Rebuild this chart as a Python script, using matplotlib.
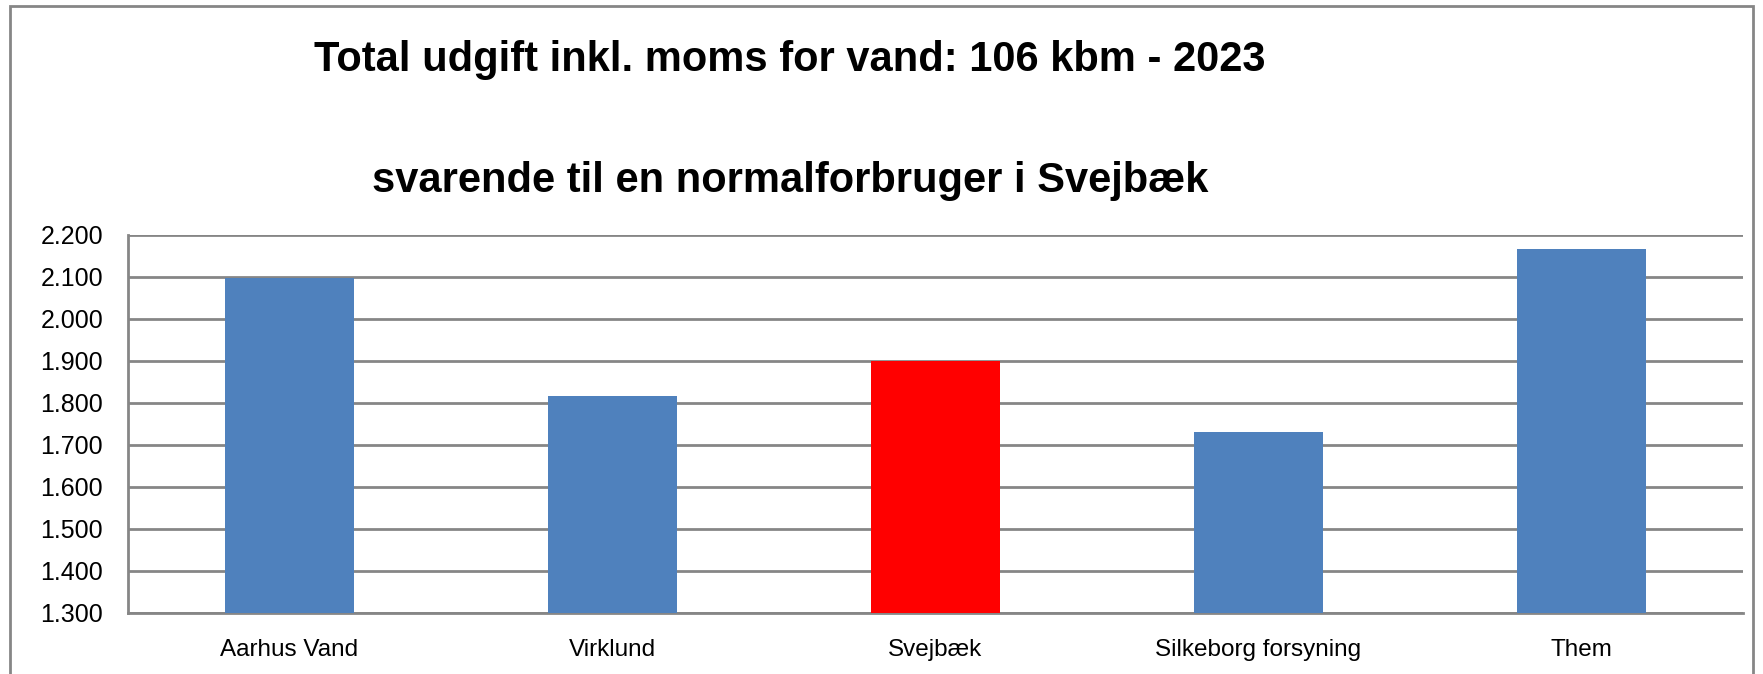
import matplotlib
matplotlib.use('Agg')
import matplotlib.pyplot as plt
from matplotlib.patches import Rectangle

plt.rcParams['font.family'] = ['Liberation Sans Narrow', 'Liberation Sans', 'DejaVu Sans']

# data
selskaber = ['Aarhus Vand', 'Virklund', 'Svejbæk', 'Silkeborg forsyning', 'Them']
udgift = [2097, 1817, 1900, 1731, 2166]
farver = ['#4F81BD', '#4F81BD', '#FF0000', '#4F81BD', '#4F81BD']
yticks = [1300, 1400, 1500, 1600, 1700, 1800, 1900, 2000, 2100, 2200]
ytick_labels = ['1.300', '1.400', '1.500', '1.600', '1.700', '1.800', '1.900', '2.000', '2.100', '2.200']

W, H = 1763, 674
fig = plt.figure(figsize=(W / 100, H / 100), dpi=100)
ax = fig.add_axes([128 / W, 1 - 613 / H, (1743 - 128) / W, (613 - 235) / H])

x = range(len(selskaber))
ax.bar(x, [v - 1300 for v in udgift], bottom=1300, width=0.4, color=farver, zorder=3)

ax.set_xlim(-0.5, len(selskaber) - 0.5)
ax.set_ylim(1300, 2200)
ax.set_yticks(yticks)
ax.set_yticklabels(ytick_labels, fontsize=18)
ax.set_xticks(list(x))
ax.set_xticklabels(selskaber, fontsize=17.5)
ax.tick_params(axis='both', length=0)
ax.tick_params(axis='y', pad=18)
ax.tick_params(axis='x', pad=19)

ax.grid(axis='y', color='#868686', linewidth=2, zorder=0)
for s in ['top', 'right']:
    ax.spines[s].set_visible(False)
for s in ['left', 'bottom']:
    ax.spines[s].set_color('#868686')
    ax.spines[s].set_linewidth(2)

# titel
fig.text(790 / W, 1 - 60 / H, 'Total udgift inkl. moms for vand: 106 kbm - 2023',
         ha='center', va='center', fontsize=30, fontweight='bold')
fig.text(790 / W, 1 - 181 / H, 'svarende til en normalforbruger i Svejbæk',
         ha='center', va='center', fontsize=30, fontweight='bold')

# ramme om diagrammet
fig.patches.append(Rectangle((10 / W, -0.1), (W - 20) / W, 1.1 - 6 / H,
                             transform=fig.transFigure, fill=False,
                             edgecolor='#868686', linewidth=2))

fig.savefig('out.png', dpi=100)
